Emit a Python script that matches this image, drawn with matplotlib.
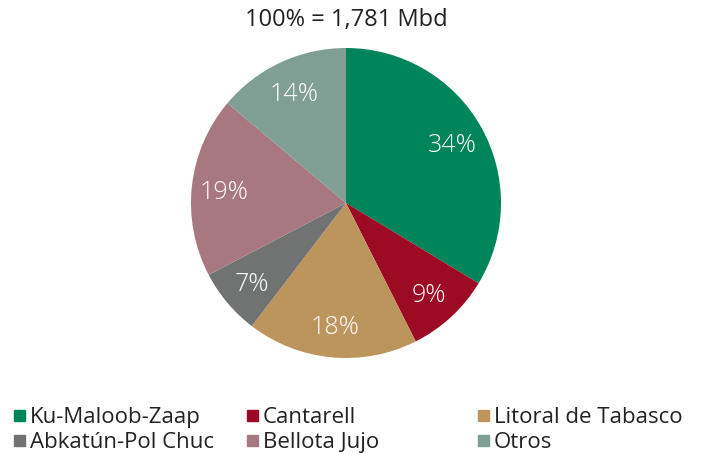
import matplotlib.pyplot as plt
from matplotlib.patches import Rectangle

plt.rcParams['font.family'] = ['Open Sans', 'DejaVu Sans']

campos = ['Ku-Maloob-Zaap', 'Cantarell', 'Litoral de Tabasco',
          'Abkatún-Pol Chuc', 'Bellota Jujo', 'Otros']
porcentajes = [34, 9, 18, 7, 19, 14]
colores = ['#00845A', '#9D0A23', '#BC955C', '#717372', '#A87880', '#7F9F94']
titulo = '100% = 1,781 Mbd'

W, H = 704, 454
fig = plt.figure(figsize=(W / 100, H / 100), dpi=100)

# pastel centrado en (346, 203) px, radio 155 px
cx, cy, r = 346, 203, 155
ax = fig.add_axes([(cx - r) / W, (H - cy - r) / H, 2 * r / W, 2 * r / H])
wedges, texts, autotexts = ax.pie(
    porcentajes, colors=colores, startangle=90, counterclock=False,
    radius=1, autopct='%.0f%%', pctdistance=0.79,
    textprops={'color': 'white', 'fontsize': 18, 'fontweight': 'light'},
    wedgeprops={'linewidth': 0})
for t in autotexts:
    t.set_va('center_baseline')
ax.set_xlim(-1, 1)
ax.set_ylim(-1, 1)
ax.set_aspect('equal')
ax.axis('off')

fig.text(cx / W, 1 - 20 / H, titulo, ha='center', va='center',
         fontsize=17, color='#222222')

# leyenda manual en 3 columnas
col_x = [14, 247, 478]
row_y = [415, 440]
for i, (nombre, c) in enumerate(zip(campos, colores)):
    x = col_x[i % 3]
    y = row_y[i // 3]
    fig.patches.append(Rectangle((x / W, (H - y - 5.5) / H), 11 / W, 11 / H,
                                 transform=fig.transFigure, color=c))
    fig.text((x + 16) / W, 1 - y / H, nombre, ha='left', va='center_baseline',
             fontsize=16, color='#222222')

plt.savefig('out.png', dpi=100)
